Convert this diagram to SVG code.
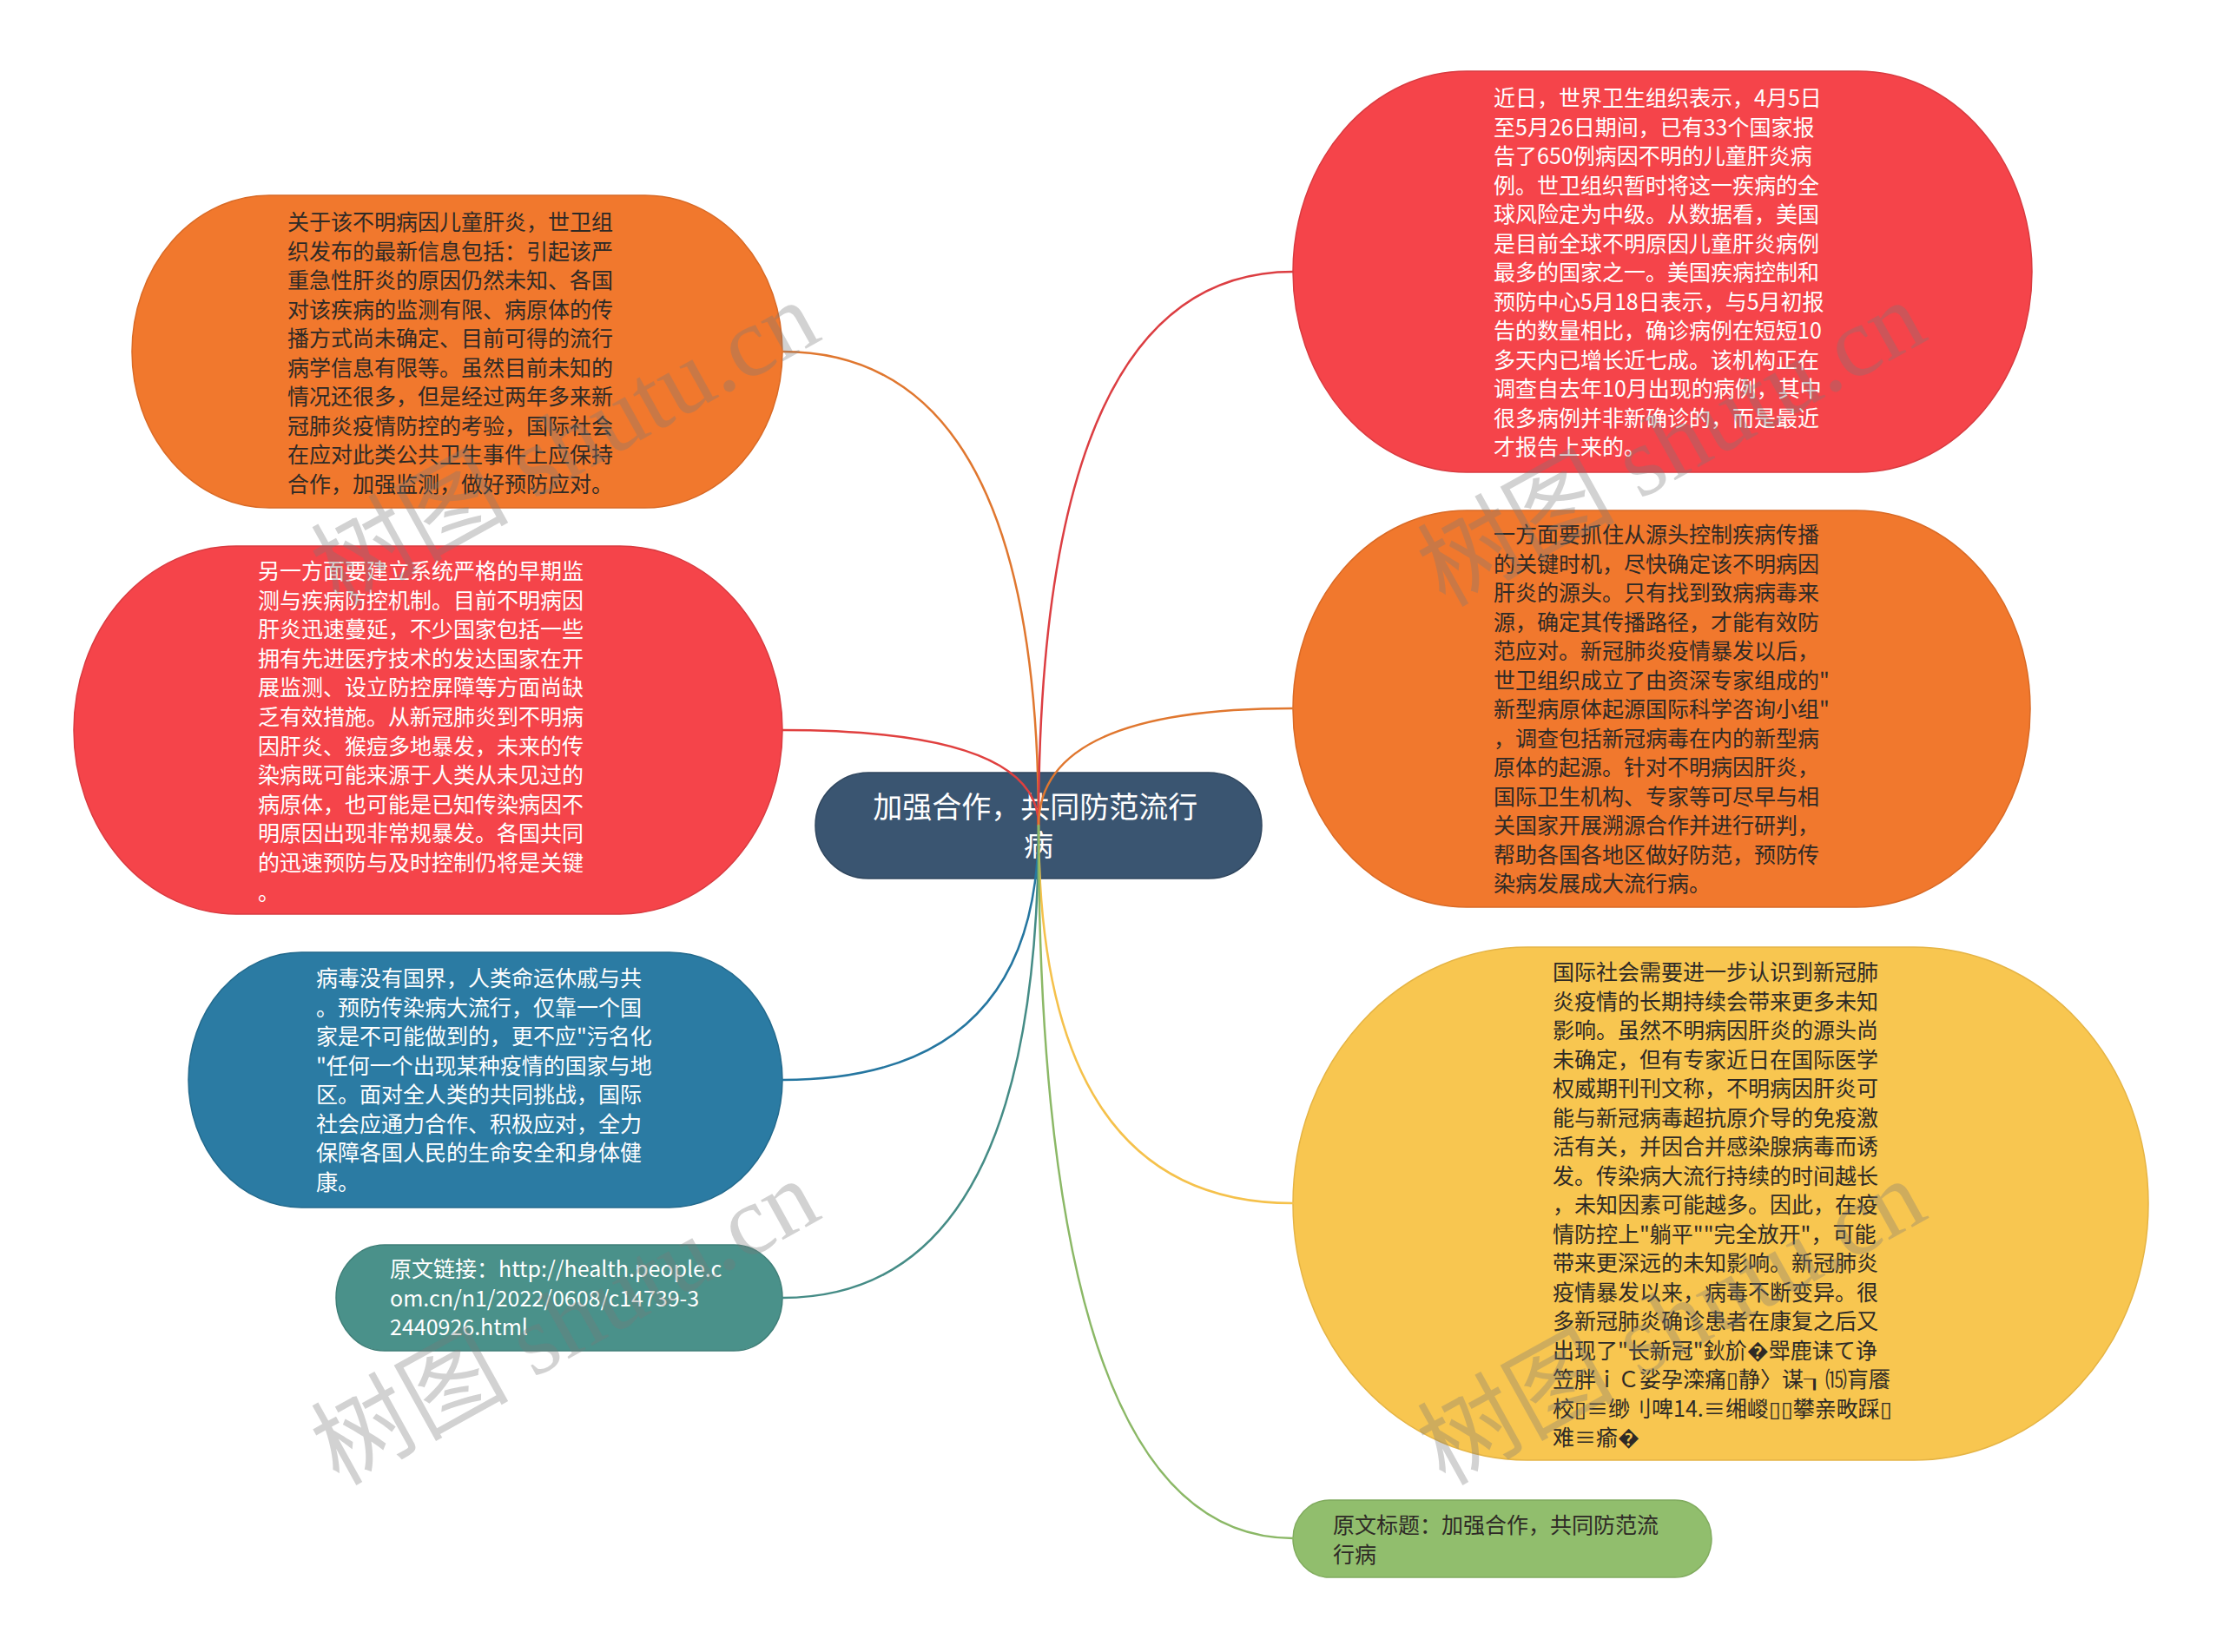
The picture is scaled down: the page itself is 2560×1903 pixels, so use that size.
<svg xmlns="http://www.w3.org/2000/svg" width="2560" height="1903" viewBox="0 0 2560 1903">
<style>
.t{font-family:"Noto Sans CJK SC","Noto Sans",sans-serif;font-size:25px}
.lt{fill:#ffffff}
.dk{fill:#2e2a26}
.root{font-family:"Noto Sans CJK SC","Noto Sans",sans-serif;font-size:34px;fill:#ffffff;text-anchor:middle}
.c{fill:none;stroke-width:2.5;stroke-linecap:round}
.wm{fill:#7a7a7a;opacity:0.33;font-size:114px}
.wmc{font-family:"Noto Sans CJK SC",sans-serif}
.wms{font-family:"Liberation Serif",serif}
</style>
<rect width="2560" height="1903" fill="#ffffff"/>

<g id="node-a">
<rect x="152" y="225" width="749" height="360" rx="158" ry="180" fill="#F1782D" stroke="#D96A26" stroke-width="1.5"/>
<text class="t dk" x="331" y="265">
<tspan x="331" dy="0">关于该不明病因儿童肝炎，世卫组</tspan>
<tspan x="331" dy="33.5">织发布的最新信息包括：引起该严</tspan>
<tspan x="331" dy="33.5">重急性肝炎的原因仍然未知、各国</tspan>
<tspan x="331" dy="33.5">对该疾病的监测有限、病原体的传</tspan>
<tspan x="331" dy="33.5">播方式尚未确定、目前可得的流行</tspan>
<tspan x="331" dy="33.5">病学信息有限等。虽然目前未知的</tspan>
<tspan x="331" dy="33.5">情况还很多，但是经过两年多来新</tspan>
<tspan x="331" dy="33.5">冠肺炎疫情防控的考验，国际社会</tspan>
<tspan x="331" dy="33.5">在应对此类公共卫生事件上应保持</tspan>
<tspan x="331" dy="33.5">合作，加强监测，做好预防应对。</tspan>
</text>
</g>

<g id="node-b">
<rect x="85" y="629" width="816" height="424" rx="187" ry="212" fill="#F5444A" stroke="#D93B40" stroke-width="1.5"/>
<text class="t lt" x="297" y="667">
<tspan x="297" dy="0">另一方面要建立系统严格的早期监</tspan>
<tspan x="297" dy="33.6">测与疾病防控机制。目前不明病因</tspan>
<tspan x="297" dy="33.6">肝炎迅速蔓延，不少国家包括一些</tspan>
<tspan x="297" dy="33.6">拥有先进医疗技术的发达国家在开</tspan>
<tspan x="297" dy="33.6">展监测、设立防控屏障等方面尚缺</tspan>
<tspan x="297" dy="33.6">乏有效措施。从新冠肺炎到不明病</tspan>
<tspan x="297" dy="33.6">因肝炎、猴痘多地暴发，未来的传</tspan>
<tspan x="297" dy="33.6">染病既可能来源于人类从未见过的</tspan>
<tspan x="297" dy="33.6">病原体，也可能是已知传染病因不</tspan>
<tspan x="297" dy="33.6">明原因出现非常规暴发。各国共同</tspan>
<tspan x="297" dy="33.6">的迅速预防与及时控制仍将是关键</tspan>
<tspan x="297" dy="33.6">。</tspan>
</text>
</g>

<g id="node-c">
<rect x="217" y="1097" width="684" height="294" rx="130" ry="147" fill="#2B7BA3" stroke="#236A8D" stroke-width="1.5"/>
<text class="t lt" x="364" y="1136">
<tspan x="364" dy="0">病毒没有国界，人类命运休戚与共</tspan>
<tspan x="364" dy="33.5">。预防传染病大流行，仅靠一个国</tspan>
<tspan x="364" dy="33.5">家是不可能做到的，更不应"污名化</tspan>
<tspan x="364" dy="33.5">"任何一个出现某种疫情的国家与地</tspan>
<tspan x="364" dy="33.5">区。面对全人类的共同挑战，国际</tspan>
<tspan x="364" dy="33.5">社会应通力合作、积极应对，全力</tspan>
<tspan x="364" dy="33.5">保障各国人民的生命安全和身体健</tspan>
<tspan x="364" dy="33.5">康。</tspan>
</text>
</g>

<g id="node-d">
<rect x="387" y="1434" width="514" height="122" rx="56" ry="61" fill="#4A918A" stroke="#3F7F78" stroke-width="1.5"/>
<text class="t lt" x="449" y="1471">
<tspan x="449" dy="0">原文链接：http://health.people.c</tspan>
<tspan x="449" dy="33.5">om.cn/n1/2022/0608/c14739-3</tspan>
<tspan x="449" dy="33.5">2440926.html</tspan>
</text>
</g>

<g id="node-e">
<rect x="1489" y="82" width="851" height="462" rx="200" ry="231" fill="#F5444A" stroke="#D93B40" stroke-width="1.5"/>
<text class="t lt" x="1720" y="122">
<tspan x="1720" dy="0">近日，世界卫生组织表示，4月5日</tspan>
<tspan x="1720" dy="33.5">至5月26日期间，已有33个国家报</tspan>
<tspan x="1720" dy="33.5">告了650例病因不明的儿童肝炎病</tspan>
<tspan x="1720" dy="33.5">例。世卫组织暂时将这一疾病的全</tspan>
<tspan x="1720" dy="33.5">球风险定为中级。从数据看，美国</tspan>
<tspan x="1720" dy="33.5">是目前全球不明原因儿童肝炎病例</tspan>
<tspan x="1720" dy="33.5">最多的国家之一。美国疾病控制和</tspan>
<tspan x="1720" dy="33.5">预防中心5月18日表示，与5月初报</tspan>
<tspan x="1720" dy="33.5">告的数量相比，确诊病例在短短10</tspan>
<tspan x="1720" dy="33.5">多天内已增长近七成。该机构正在</tspan>
<tspan x="1720" dy="33.5">调查自去年10月出现的病例，其中</tspan>
<tspan x="1720" dy="33.5">很多病例并非新确诊的，而是最近</tspan>
<tspan x="1720" dy="33.5">才报告上来的。</tspan>
</text>
</g>

<g id="node-f">
<rect x="1489" y="588" width="849" height="457" rx="200" ry="228" fill="#F1782D" stroke="#D96A26" stroke-width="1.5"/>
<text class="t dk" x="1720" y="625">
<tspan x="1720" dy="0">一方面要抓住从源头控制疾病传播</tspan>
<tspan x="1720" dy="33.5">的关键时机，尽快确定该不明病因</tspan>
<tspan x="1720" dy="33.5">肝炎的源头。只有找到致病病毒来</tspan>
<tspan x="1720" dy="33.5">源，确定其传播路径，才能有效防</tspan>
<tspan x="1720" dy="33.5">范应对。新冠肺炎疫情暴发以后，</tspan>
<tspan x="1720" dy="33.5">世卫组织成立了由资深专家组成的"</tspan>
<tspan x="1720" dy="33.5">新型病原体起源国际科学咨询小组"</tspan>
<tspan x="1720" dy="33.5">，调查包括新冠病毒在内的新型病</tspan>
<tspan x="1720" dy="33.5">原体的起源。针对不明病因肝炎，</tspan>
<tspan x="1720" dy="33.5">国际卫生机构、专家等可尽早与相</tspan>
<tspan x="1720" dy="33.5">关国家开展溯源合作并进行研判，</tspan>
<tspan x="1720" dy="33.5">帮助各国各地区做好防范，预防传</tspan>
<tspan x="1720" dy="33.5">染病发展成大流行病。</tspan>
</text>
</g>

<g id="node-g">
<rect x="1489" y="1091" width="985" height="591" rx="270" ry="295" fill="#F8C650" stroke="#E5B445" stroke-width="1.5"/>
<text class="t dk" x="1788" y="1129">
<tspan x="1788" dy="0">国际社会需要进一步认识到新冠肺</tspan>
<tspan x="1788" dy="33.5">炎疫情的长期持续会带来更多未知</tspan>
<tspan x="1788" dy="33.5">影响。虽然不明病因肝炎的源头尚</tspan>
<tspan x="1788" dy="33.5">未确定，但有专家近日在国际医学</tspan>
<tspan x="1788" dy="33.5">权威期刊刊文称，不明病因肝炎可</tspan>
<tspan x="1788" dy="33.5">能与新冠病毒超抗原介导的免疫激</tspan>
<tspan x="1788" dy="33.5">活有关，并因合并感染腺病毒而诱</tspan>
<tspan x="1788" dy="33.5">发。传染病大流行持续的时间越长</tspan>
<tspan x="1788" dy="33.5">，未知因素可能越多。因此，在疫</tspan>
<tspan x="1788" dy="33.5">情防控上"躺平""完全放开"，可能</tspan>
<tspan x="1788" dy="33.5">带来更深远的未知影响。新冠肺炎</tspan>
<tspan x="1788" dy="33.5">疫情暴发以来，病毒不断变异。很</tspan>
<tspan x="1788" dy="33.5">多新冠肺炎确诊患者在康复之后又</tspan>
<tspan x="1788" dy="33.5">出现了"长新冠"鈥斺�斝鹿诔て诤</tspan>
<tspan x="1788" dy="33.5">笠胖ｉＣ娑孕滦痛▯静〉谋┒⒂肓餍</tspan>
<tspan x="1788" dy="33.5">校▯≡缈刂啤14.≡缃嵕▯▯攀亲畋踩▯</tspan>
<tspan x="1788" dy="33.5">难≡瘉�</tspan>
</text>
</g>

<g id="node-h">
<rect x="1489" y="1728" width="482" height="89" rx="42" ry="44.5" fill="#91BE6D" stroke="#80AB5E" stroke-width="1.5"/>
<text class="t dk" x="1535" y="1766">
<tspan x="1535" dy="0">原文标题：加强合作，共同防范流</tspan>
<tspan x="1535" dy="33.5">行病</tspan>
</text>
</g>

<g id="root">
<rect x="939" y="890" width="514" height="122" rx="61" ry="61" fill="#3A5571" stroke="#2F465E" stroke-width="1.5"/>
<text class="root" x="1196" y="942">
<tspan x="1196" dy="0">加强合作，共同防范流行</tspan>
<tspan x="1196" dy="44">病</tspan>
</text>
</g>

<g id="connectors">
<path class="c" stroke="#E0772F" d="M1196 951 Q1196 405 901 405"/>
<path class="c" stroke="#E0403F" d="M1196 951 Q1196 841 901 841"/>
<path class="c" stroke="#2576A0" d="M1196 951 Q1196 1244 901 1244"/>
<path class="c" stroke="#458C86" d="M1196 951 Q1196 1495 901 1495"/>
<path class="c" stroke="#DC3E42" d="M1196 951 Q1196 313 1489 313"/>
<path class="c" stroke="#E0772F" d="M1196 951 Q1196 816 1489 816"/>
<path class="c" stroke="#F5C14B" d="M1196 951 Q1196 1386 1489 1386"/>
<path class="c" stroke="#8BB866" d="M1196 951 Q1196 1772 1489 1772"/>
</g>

<g id="watermarks">
<text class="wm" transform="translate(650 510) rotate(-29)" text-anchor="middle" y="40"><tspan class="wmc">树图</tspan><tspan class="wms"> shutu.cn</tspan></text>
<text class="wm" transform="translate(650 1522) rotate(-29)" text-anchor="middle" y="40"><tspan class="wmc">树图</tspan><tspan class="wms"> shutu.cn</tspan></text>
<text class="wm" transform="translate(1924 510) rotate(-29)" text-anchor="middle" y="40"><tspan class="wmc">树图</tspan><tspan class="wms"> shutu.cn</tspan></text>
<text class="wm" transform="translate(1924 1522) rotate(-29)" text-anchor="middle" y="40"><tspan class="wmc">树图</tspan><tspan class="wms"> shutu.cn</tspan></text>
</g>
</svg>
